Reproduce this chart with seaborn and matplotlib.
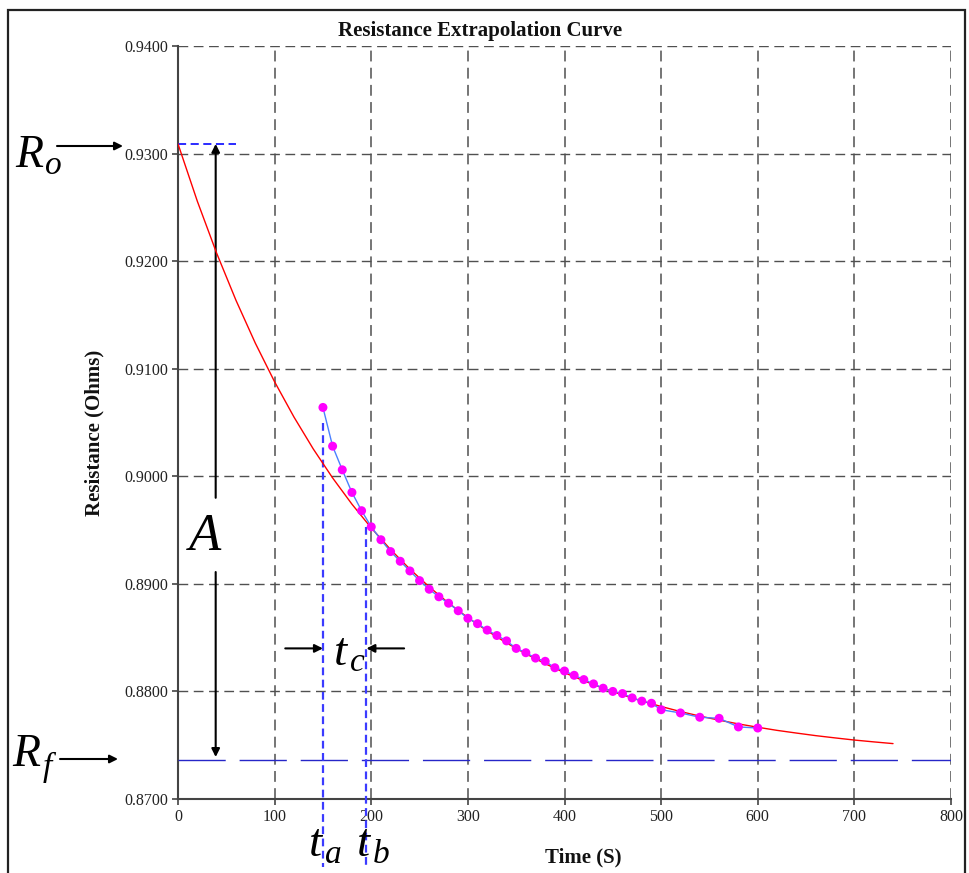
import matplotlib
matplotlib.use("Agg")
import matplotlib.pyplot as plt
import seaborn as sns
import pandas as pd
from matplotlib.patches import Rectangle

# ---------------- data ----------------
fit_time = [0, 20, 40, 60, 80, 100, 120, 140, 160, 180, 200, 220, 240, 260,
            280, 300, 320, 340, 360, 380, 400, 420, 440, 460, 480, 500, 520,
            540, 560, 580, 600, 620, 640, 660, 680, 700, 720, 740]
fit_resistance = [0.93090, 0.92557, 0.92074, 0.91636, 0.91238, 0.90878,
                  0.90551, 0.90254, 0.89985, 0.89741, 0.89520, 0.89319,
                  0.89137, 0.88972, 0.88822, 0.88686, 0.88563, 0.88451,
                  0.88350, 0.88258, 0.88174, 0.88099, 0.88030, 0.87968,
                  0.87911, 0.87860, 0.87813, 0.87771, 0.87733, 0.87698,
                  0.87667, 0.87638, 0.87613, 0.87589, 0.87568, 0.87548,
                  0.87531, 0.87515]

meas_time = [150, 160, 170, 180, 190, 200, 210, 220, 230, 240, 250, 260, 270,
             280, 290, 300, 310, 320, 330, 340, 350, 360, 370, 380, 390, 400,
             410, 420, 430, 440, 450, 460, 470, 480, 490, 500, 520, 540, 560,
             580, 600]
meas_resistance = [0.9064, 0.9028, 0.9006, 0.8985, 0.8968, 0.8953, 0.8941,
                   0.8930, 0.8921, 0.8912, 0.8903, 0.8895, 0.8888, 0.8882,
                   0.8875, 0.8868, 0.8863, 0.8857, 0.8852, 0.8847, 0.8840,
                   0.8836, 0.8831, 0.8828, 0.8822, 0.8819, 0.8815, 0.8811,
                   0.8807, 0.8803, 0.8800, 0.8798, 0.8794, 0.8791, 0.8789,
                   0.8783, 0.8780, 0.8776, 0.8775, 0.8767, 0.8766]

R_o = 0.9309
R_f = 0.8736
t_a = 150
t_b = 195
A_arrow_t = 39
tc_level = 0.8840

x_ticks = [0, 100, 200, 300, 400, 500, 600, 700, 800]
y_ticks = [0.87, 0.88, 0.89, 0.90, 0.91, 0.92, 0.93, 0.94]
y_tick_labels = ["0.8700", "0.8800", "0.8900", "0.9000", "0.9100",
                 "0.9200", "0.9300", "0.9400"]

# ---------------- style ----------------
sns.set_theme(style="white")
plt.rcParams["font.family"] = ["Liberation Serif", "DejaVu Serif"]

W, H = 969, 873
fig = plt.figure(figsize=(W / 100, H / 100), dpi=100)
fig.patch.set_facecolor("white")


def fx(x):
    return x / W


def fy(y):
    return 1 - y / H


# outer frame
fig.patches.append(Rectangle((fx(8), -0.2), fx(965) - fx(8), fy(10) + 0.2,
                             transform=fig.transFigure, fill=False,
                             edgecolor="#222222", lw=1.6))

ax = fig.add_axes([fx(178), fy(799), fx(951) - fx(178), fy(46) - fy(799)])
ax.set_facecolor("white")

fit_df = pd.DataFrame({"t": fit_time, "R": fit_resistance})
meas_df = pd.DataFrame({"t": meas_time, "R": meas_resistance})

sns.lineplot(data=fit_df, x="t", y="R", ax=ax, color="#ff0000", lw=1.0,
             zorder=4)
sns.lineplot(data=meas_df, x="t", y="R", ax=ax, color="#4a80ff", lw=1.0,
             zorder=5)
sns.scatterplot(data=meas_df, x="t", y="R", ax=ax, color="#ff00ff", s=42,
                edgecolor="none", linewidth=0, zorder=6)

ax.set_xlim(0, 800)
ax.set_ylim(0.87, 0.94)
ax.set_xticks(x_ticks)
ax.set_xticklabels([str(v) for v in x_ticks])
ax.set_yticks(y_ticks)
ax.set_yticklabels(y_tick_labels)

# grid
ax.yaxis.grid(True, color="#505050", lw=1.0, linestyle=(0, (7, 4)))
ax.xaxis.grid(True, color="#6a6a6a", lw=1.3, linestyle=(0, (6, 3.5)))
ax.set_axisbelow(True)

for side in ("top", "right"):
    ax.spines[side].set_visible(False)
for side in ("left", "bottom"):
    ax.spines[side].set_color("#444444")
    ax.spines[side].set_linewidth(1.5)

ax.tick_params(axis="both", which="major", direction="out", length=4,
               width=1.2, color="#444444", labelsize=11.5,
               labelcolor="#222222", pad=3, bottom=True, left=True)

ax.set_xlabel("Time (S)", fontsize=15, fontweight="bold", color="#111111")
ax.set_ylabel("Resistance (Ohms)", fontsize=15, fontweight="bold",
              color="#111111")
ax.xaxis.set_label_coords((583 - 178) / 773, -(847 - 799) / 753)
ax.yaxis.set_label_coords(-(178 - 104) / 773, 0.486)

fig.text(fx(480), fy(31), "Resistance Extrapolation Curve", ha="center",
         va="center", fontsize=15, fontweight="bold", color="#111111")

# reference lines
ax.plot([0, 800], [R_f, R_f], color="#2626c8", lw=1.0, dashes=(34, 10),
        zorder=3)
ax.plot([0, 60], [R_o, R_o], color="#1a1aff", lw=1.3, dashes=(4.5, 2.5),
        zorder=3)
ax.plot([t_a, t_a], [0.9050, 0.8637], color="#3b3bff", lw=1.6,
        dashes=(3.5, 2), clip_on=False, zorder=3)
ax.plot([t_b, t_b], [0.8953, 0.8637], color="#3b3bff", lw=1.6,
        dashes=(3.5, 2), clip_on=False, zorder=3)

arrow = dict(arrowstyle="-|>", color="black", lw=1.5, mutation_scale=12,
             shrinkA=0, shrinkB=0)
ax.annotate("", xy=(A_arrow_t, R_o), xytext=(A_arrow_t, 0.8980),
            arrowprops=arrow)
ax.annotate("", xy=(A_arrow_t, 0.8739), xytext=(A_arrow_t, 0.8911),
            arrowprops=arrow)
ax.annotate("", xy=(t_a, tc_level), xytext=(111, tc_level),
            arrowprops=arrow)
ax.annotate("", xy=(t_b, tc_level), xytext=(234, tc_level),
            arrowprops=arrow)

# arrows outside the axes (figure pixels)
fig_arrow = dict(arrowstyle="-|>", color="black", lw=1.5, mutation_scale=12,
                 shrinkA=0, shrinkB=0)
ax.annotate("", xy=(123, H - 146), xytext=(57, H - 146),
            xycoords="figure pixels", textcoords="figure pixels",
            arrowprops=fig_arrow, annotation_clip=False)
ax.annotate("", xy=(118, H - 759), xytext=(60, H - 759),
            xycoords="figure pixels", textcoords="figure pixels",
            arrowprops=fig_arrow, annotation_clip=False)

# big italic labels
big = dict(fontstyle="italic", color="black", ha="left", va="baseline")
fig.text(fx(15), fy(167), "R", fontsize=33, **big)
fig.text(fx(45), fy(174), "o", fontsize=24, **big)
fig.text(fx(12), fy(766), "R", fontsize=33, **big)
fig.text(fx(43), fy(776), "f", fontsize=24, **big)
fig.text(fx(189), fy(550), "A", fontsize=38, **big)
fig.text(fx(334), fy(665), "t", fontsize=34, **big)
fig.text(fx(350), fy(671), "c", fontsize=24, **big)
fig.text(fx(309), fy(856), "t", fontsize=34, **big)
fig.text(fx(325), fy(863), "a", fontsize=24, **big)
fig.text(fx(357), fy(856), "t", fontsize=34, **big)
fig.text(fx(373), fy(863), "b", fontsize=24, **big)

fig.savefig("out.png", dpi=100, facecolor="white")
